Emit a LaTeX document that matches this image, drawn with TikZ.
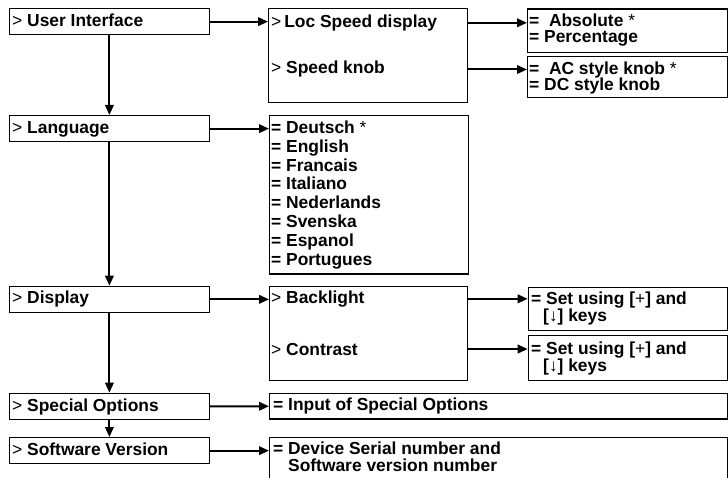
\documentclass[tikz,border=0pt]{standalone}
\usepackage{fontspec}
\setmainfont{Liberation Sans}
\usetikzlibrary{arrows.meta,positioning,calc}
\newcommand\gtsign{{\mdseries>}}
\newcommand\astsign{{\mdseries*}}
\tikzset{
  menubox/.style 2 args={draw=black, line width=1.3pt, inner sep=0pt,
                  anchor=north west, minimum width=#1pt, minimum height=#2pt},
  leftbox/.style={menubox={199.5}{26}},
  item/.style   ={anchor=base west, inner sep=0pt,
                  font=\fontsize{17.4}{19}\selectfont\bfseries},
  arr/.style    ={-{Triangle[length=10pt,width=8.5pt]}, line width=2pt},
}

\begin{document}
\begin{tikzpicture}[x=1pt,y=-1pt]
  \useasboundingbox (0,0) rectangle (728,478);
  \clip (0,0) rectangle (728,478);
  % left column
  \node[leftbox] (ui)   at (9,8)     {};
  \node[leftbox] (lang) at (9,115)   {};
  \node[leftbox] (disp) at (9,285.7) {};
  \node[leftbox] (spec) at (9,392.7) {};
  \node[leftbox] (soft) at (9,437)   {};
  \node[item] (uitxt)   at (12,26.5)  {\gtsign\ User Interface};
  \node[item] (langtxt) at (12,133.5) {\gtsign\ Language};
  \node[item] (disptxt) at (12,303.5) {\gtsign\ Display};
  \node[item] (spectxt) at (12,411)   {\gtsign\ Special Options};
  \node[item] (softtxt) at (12,455)   {\gtsign\ Software Version};
  % sub menus
  \node[menubox={199}{93.7}]    (uisub)   at (268,8)     {};
  \node[menubox={198.7}{158.3}] (langsub) at (269,115)   {};
  \node[menubox={198}{94.3}]    (dispsub) at (269,285.7) {};
  \node[menubox={457.7}{25.6}]  (input)   at (269,392.7) {};
  \node[menubox={457.7}{48}]    (device)  at (269,437)   {};
  \node[item] (loctxt)   at (271,27.3) {\gtsign\,Loc Speed display};
  \node[item] (knobtxt)  at (271,74)   {\gtsign\ Speed knob};
  \foreach \name [count=\i from 0] in
      {Deutsch \astsign, English, Francais, Italiano, Nederlands,
       Svenska, Espanol, Portugues}
    \node[item] (lang\i) at (271,133.3+18.9*\i) {= \name};
  \node[item] (backtxt)  at (271,303.3) {\gtsign\ Backlight};
  \node[item] (contrtxt) at (271,355)   {\gtsign\ Contrast};
  \node[item] (inputtxt) at (273,410.7) {= Input of Special Options};
  \node[item] (devtxt)   at (273,454.3) {= Device Serial number and};
  \node[item] (vertxt)   at (288,471.7) {Software version number};
  % options
  \node[menubox={199.7}{43.4}] (abs)  at (527,8.3)   {};
  \node[menubox={199.7}{40.7}] (ac)   at (527,56)    {};
  \node[menubox={199}{43.3}]   (set1) at (527.7,286.7) {};
  \node[menubox={199}{45}]     (set2) at (527.7,335)   {};
  \node[item] (abstxt) at (529,26.3) {=\ \ Absolute \astsign};
  \node[item] (pcttxt) at (529,43)   {= Percentage};
  \node[item] (actxt)  at (529,75)   {=\ \ AC style knob \astsign};
  \node[item] (dctxt)  at (529,91)   {= DC style knob};
  \node[item] (set1txt) at (531,304.3) {= Set using [{\mdseries+}] and};
  \node[item] (key1txt) at (543,321.7) {[↓] keys};
  \node[item] (set2txt) at (531,354.3) {= Set using [{\mdseries+}] and};
  \node[item] (key2txt) at (543,371.7) {[↓] keys};
  % connectors
  \draw[arr] (ui) -- (lang);
  \draw[arr] (lang) -- (disp);
  \draw[arr] (disp) -- (spec);
  \draw[arr] (spec) -- (soft);
  \draw[arr] (ui) -- (ui -| uisub.west);
  \draw[arr] (lang) -- (lang -| langsub.west);
  \draw[arr] (disp) -- (disp -| dispsub.west);
  \draw[arr] (spec) -- (input);
  \draw[arr] (soft) -- (soft -| device.west);
  \draw[arr] (uisub.east |- loctxt) -- (abs.west |- loctxt);
  \draw[arr] (uisub.east |- knobtxt) -- (ac.west |- knobtxt);
  \draw[arr] (dispsub.east |- backtxt) -- (set1.west |- backtxt);
  \draw[arr] (dispsub.east |- contrtxt) -- (set2.west |- contrtxt);
\end{tikzpicture}
\end{document}
